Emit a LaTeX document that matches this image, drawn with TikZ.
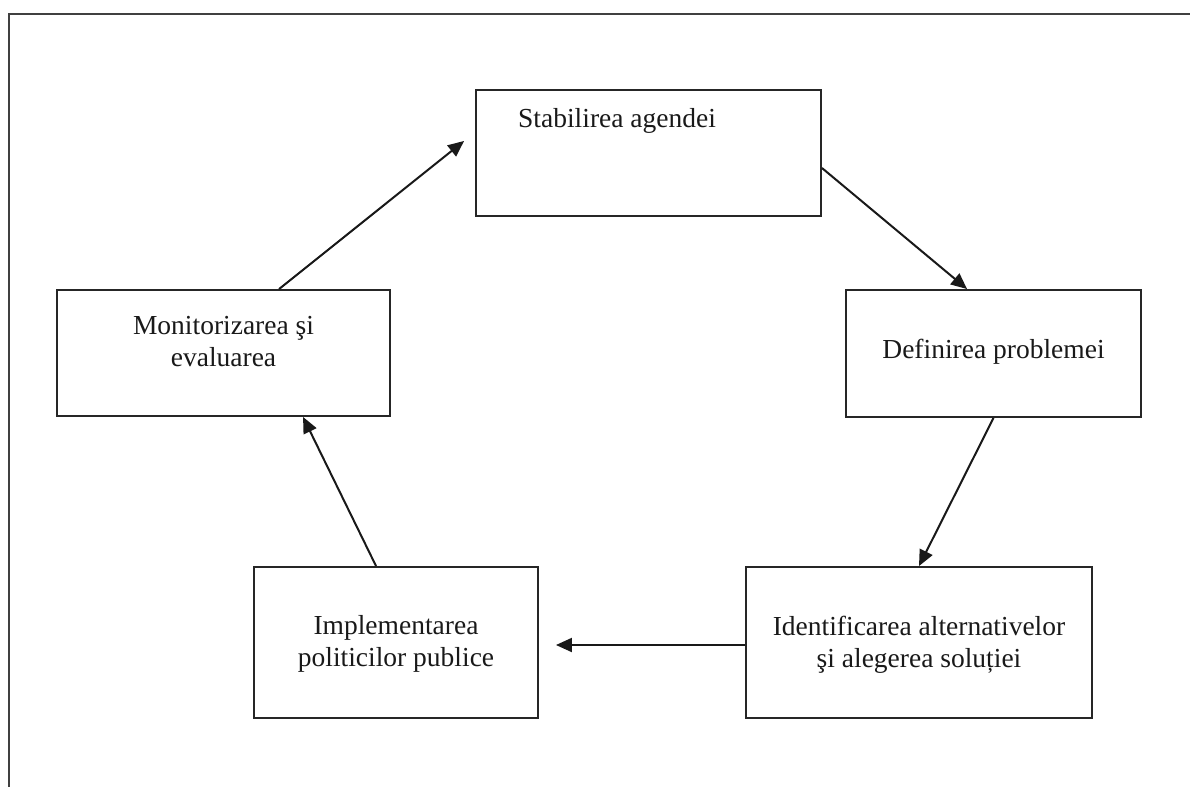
\documentclass[tikz,border=0pt]{standalone}
\usepackage{fontspec}
\setmainfont{Liberation Serif}
\usetikzlibrary{arrows.meta}
\tikzset{
  box/.style={draw=black!85, line width=1.9pt, rectangle, inner sep=0pt},
  lbl/.style={font=\fontsize{27.5}{32}\selectfont, align=center, inner sep=0pt, text=black!90},
  arr/.style={draw=black!90, line width=2pt, -{Triangle[length=16pt,width=14pt]}},
  frame/.style={draw=black!75, line width=2.4pt}
}
\begin{document}
\begin{tikzpicture}[x=1pt,y=-1pt]
\useasboundingbox (0,0) rectangle (1190,787);
% outer frame (top and left sides)
\coordinate (ftr) at (1190,14);
\coordinate (ftl) at (9,14);
\coordinate (fbl) at (9,787);
\draw[frame] (ftr) -- (ftl) -- (fbl);
% boxes
\node[box, minimum width=345pt, minimum height=126pt] (stab) at (648.5,153) {};
\node[box, minimum width=333pt, minimum height=126pt] (mon) at (223.5,353) {};
\node[box, minimum width=295pt, minimum height=127pt] (def) at (993.5,353.5) {};
\node[box, minimum width=346pt, minimum height=151pt] (ident) at (919,642.5) {};
\node[box, minimum width=284pt, minimum height=151pt] (impl) at (396,642.5) {};
% texts
\node[lbl, anchor=base west] (tstab) at (518,127) {Stabilirea agendei};
\node[lbl] (tmon) at (223.5,342) {Monitorizarea şi\\evaluarea};
\node[lbl] (tdef) at (993.5,352) {Definirea problemei};
\node[lbl] (tident) at (919,645) {Identificarea alternativelor\\şi alegerea soluției};
\node[lbl] (timpl) at (396,644) {Implementarea\\politicilor publice};
% connectors
\draw[arr] ([xshift=223pt]mon.north west) -- ([xshift=-11pt,yshift=12pt]stab.west);
\draw[arr] ([yshift=-15pt]stab.east) -- ([xshift=122pt]def.north west);
\draw[arr] (def.south) -- (ident.north);
\draw[arr] ([yshift=-2.5pt]ident.west) -- ([xshift=17pt,yshift=-2.5pt]impl.east);
\draw[arr] ([xshift=123pt]impl.north west) -- ([xshift=247pt]mon.south west);
\end{tikzpicture}
\end{document}
